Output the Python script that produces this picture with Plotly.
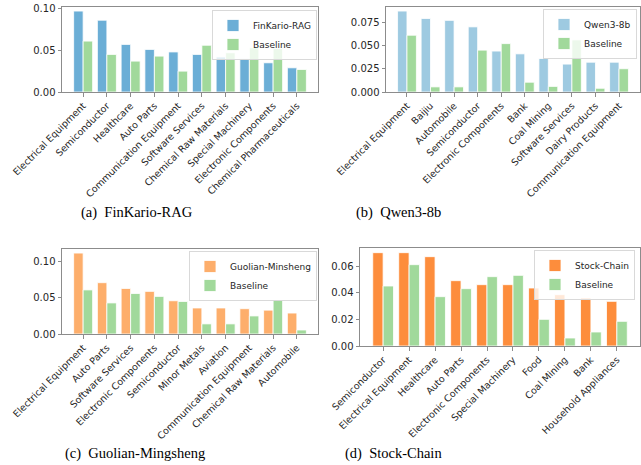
import plotly.graph_objects as go

W, H = 641, 465

# ---- data ----
cats_a = ["Electrical Equipment", "Semiconductor", "Healthcare", "Auto Parts", "Communication Equipment",
          "Software Services", "Chemical Raw Materials", "Special Machinery", "Electronic Components",
          "Chemical Pharmaceuticals"]
finkario = [0.097, 0.086, 0.057, 0.051, 0.048, 0.045, 0.042, 0.040, 0.035, 0.029]
base_a = [0.061, 0.045, 0.037, 0.043, 0.025, 0.056, 0.047, 0.053, 0.052, 0.027]

cats_b = ["Electrical Equipment", "Baijiu", "Automobile", "Semiconductor", "Electronic Components",
          "Bank", "Coal Mining", "Software Services", "Dairy Products", "Communication Equipment"]
qwen = [0.087, 0.079, 0.077, 0.070, 0.044, 0.041, 0.036, 0.030, 0.032, 0.032]
base_b = [0.061, 0.0055, 0.0055, 0.045, 0.052, 0.0105, 0.006, 0.056, 0.004, 0.025]

cats_c = ["Electrical Equipment", "Auto Parts", "Software Services", "Electronic Components",
          "Semiconductor", "Minor Metals", "Aviation", "Communication Equipment",
          "Chemical Raw Materials", "Automobile"]
guolian = [0.112, 0.071, 0.063, 0.059, 0.046, 0.036, 0.036, 0.035, 0.033, 0.029]
base_c = [0.061, 0.043, 0.056, 0.052, 0.045, 0.014, 0.014, 0.025, 0.047, 0.0055]

cats_d = ["Semiconductor", "Electrical Equipment", "Healthcare", "Auto Parts", "Electronic Components",
          "Special Machinery", "Food", "Coal Mining", "Bank", "Household Appliances"]
stockchain = [0.070, 0.070, 0.067, 0.049, 0.046, 0.046, 0.0435, 0.0385, 0.036, 0.0335]
base_d = [0.045, 0.061, 0.037, 0.043, 0.052, 0.053, 0.020, 0.006, 0.0105, 0.0185]

panels = [
    dict(cats=cats_a, main=finkario, name="FinKario-RAG", color="#6baed6", base=base_a,
         box=(62, 318, 7, 92), ticks=[0, 0.05, 0.10], fmt="{:.2f}", leg=(317, 10),
         cap="(a)\u00a0\u00a0FinKario-RAG", capxy=(137, 212)),
    dict(cats=cats_b, main=qwen, name="Qwen3-8b", color="#9ecae1", base=base_b,
         box=(386, 640, 7, 92), ticks=[0, 0.025, 0.05, 0.075], fmt="{:.3f}", leg=(637, 9),
         cap="(b)\u00a0\u00a0Qwen3-8b", capxy=(399, 212)),
    dict(cats=cats_c, main=guolian, name="Guolian-Minsheng", color="#fdae6b", base=base_c,
         box=(62, 318, 249, 334), ticks=[0, 0.05, 0.10], fmt="{:.2f}", leg=(317, 251),
         cap="(c)\u00a0\u00a0Guolian-Mingsheng", capxy=(135, 453)),
    dict(cats=cats_d, main=stockchain, name="Stock-Chain", color="#fd8d3c", base=base_d,
         box=(360, 640, 248, 346), ticks=[0, 0.02, 0.04, 0.06], fmt="{:.2f}", leg=(635, 250),
         cap="(d)\u00a0\u00a0Stock-Chain", capxy=(393, 453)),
]

fig = go.Figure()
layout = dict(width=W, height=H, margin=dict(l=0, r=0, t=0, b=0, autoexpand=False),
              paper_bgcolor="white", plot_bgcolor="white", barmode="group",
              bargap=0.2, bargroupgap=0.0, annotations=[])

for k, p in enumerate(panels, start=1):
    sfx = "" if k == 1 else str(k)
    legname = "legend" if k == 1 else f"legend{k}"
    fig.add_trace(go.Bar(x=p["cats"], y=p["main"], name=p["name"], marker_color=p["color"],
                         marker_line=dict(color="white", width=0.8),
                         xaxis="x" + sfx, yaxis="y" + sfx, legend=legname))
    fig.add_trace(go.Bar(x=p["cats"], y=p["base"], name="Baseline", marker_color="#a1d99b",
                         marker_line=dict(color="white", width=0.8),
                         xaxis="x" + sfx, yaxis="y" + sfx, legend=legname))
    x0, x1, y0, y1 = p["box"]
    ymax = max(max(p["main"]), max(p["base"])) * 1.05
    layout["xaxis" + sfx] = dict(domain=[x0 / W, x1 / W], anchor="y" + sfx, type="category",
                                 range=[-0.89, len(p["cats"]) - 0.11], tickangle=-45,
                                 automargin=False,
                                 showline=True, mirror=True, linecolor="#8c8c8c", linewidth=1,
                                 ticks="outside", ticklen=3.5, tickcolor="#8c8c8c",
                                 tickfont=dict(family="DejaVu Sans", size=9.5, color="#262626"),
                                 showgrid=False)
    layout["yaxis" + sfx] = dict(domain=[1 - y1 / H, 1 - y0 / H], anchor="x" + sfx,
                                 range=[0, ymax], tickvals=p["ticks"], automargin=False,
                                 ticktext=[p["fmt"].format(t) for t in p["ticks"]],
                                 showline=True, mirror=True, linecolor="#8c8c8c", linewidth=1,
                                 ticks="outside", ticklen=3.5, tickcolor="#8c8c8c",
                                 tickfont=dict(family="DejaVu Sans", size=10, color="#262626"),
                                 showgrid=False, zeroline=False)
    lx, ly = p["leg"]
    layout[legname] = dict(x=lx / W, y=1 - ly / H, xanchor="right", yanchor="top",
                           bgcolor="rgba(255,255,255,0.8)", bordercolor="#d9d9d9", borderwidth=1,
                           font=dict(family="DejaVu Sans", size=9, color="#262626"),
                           tracegroupgap=0, itemwidth=30)
    cx, cy = p["capxy"]
    layout["annotations"].append(dict(text=p["cap"], x=cx / W, y=1 - cy / H, xref="paper", yref="paper",
                                      showarrow=False, xanchor="center", yanchor="middle",
                                      font=dict(family="Liberation Serif", size=14.5, color="black")))

fig.update_layout(**layout)
fig.write_html("out.html", config={"displayModeBar": False},
               post_script="document.body.style.margin='0';document.body.style.padding='0';")
